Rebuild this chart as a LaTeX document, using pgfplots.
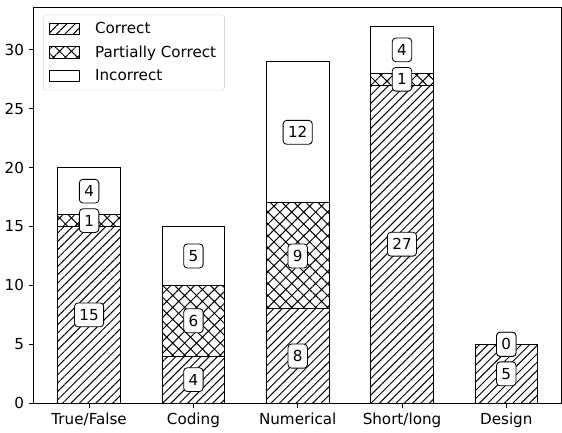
\documentclass[border={0pt 0pt 0pt 5pt}]{standalone}
\usepackage{pgfplots}
\usepackage{pgfplotstable}
\pgfplotsset{compat=1.18}
\usepackage{fontspec}
\setmainfont{DejaVu Sans}
\usetikzlibrary{patterns.meta}

\pgfplotstableread{
x correct partial incorrect
0 15 1 4
1 4 6 5
2 8 9 12
3 27 1 4
4 5 0 0
}\counts

% label positions: middle of each stacked segment
\pgfplotstableread{
x mid val
0 7.5 15
0 15.5 1
0 18 4
1 2 4
1 7 6
1 12.5 5
2 4 8
2 12.5 9
2 23 12
3 13.5 27
3 27.5 1
3 30 4
4 2.5 5
4 5 0
4 5 0
}\labels

\pgfplotsset{
  base/.style={
    scale only axis, width=376pt, height=282pt,
    xmin=-0.53, xmax=4.53, ymin=0, ymax=33.6,
  }
}

\begin{document}
\begin{tikzpicture}
\begin{axis}[
    base,
    ybar stacked,
    bar width=0.6,
    xtick={0,...,4},
    xticklabels={True/False, Coding, Numerical, Short/long, Design},
    ytick={0,5,...,30},
    tick align=outside,
    tick pos=left,
    major tick length=3.5pt,
    tick style={black, line width=0.6pt},
    axis line style={line width=0.6pt},
    /pgf/number format/assume math mode=true,
    ticklabel style={font=\fontsize{10.8}{12}\selectfont},
    legend style={at={(0.018,0.982)}, anchor=north west, draw=gray!30,
      rounded corners=2pt, font=\fontsize{10.8}{12}\selectfont,
      row sep=3pt, inner xsep=4pt, inner ysep=3.5pt,
      /tikz/every odd column/.append style={column sep=9pt}},
    legend cell align=left,
    legend image code/.code={\draw[sharp corners, #1] (0pt,-4pt) rectangle (21pt,4pt);},
  ]
  \addplot[draw=black, line width=0.7pt,
    pattern={Lines[angle=45, distance=4.2pt, line width=0.7pt]}]
    table[x=x, y=correct] {\counts};
  \addplot[draw=black, line width=0.7pt,
    pattern={Hatch[angle=45, distance=6pt, line width=0.7pt]}]
    table[x=x, y=partial] {\counts};
  \addplot[draw=black, line width=0.7pt, fill=white]
    table[x=x, y=incorrect] {\counts};
  \legend{Correct, Partially Correct, Incorrect}
\end{axis}
\begin{axis}[
    base,
    hide axis,
  ]
  \addplot[draw=none, mark=none,
    nodes near coords,
    point meta=explicit symbolic,
    nodes near coords style={anchor=center, draw=black, fill=white,
      rounded corners=2.5pt, inner xsep=3.5pt, inner ysep=4.5pt, line width=0.6pt,
      font=\fontsize{10.8}{12}\selectfont}]
    table[x=x, y=mid, meta=val] {\labels};
\end{axis}
\end{tikzpicture}
\end{document}
